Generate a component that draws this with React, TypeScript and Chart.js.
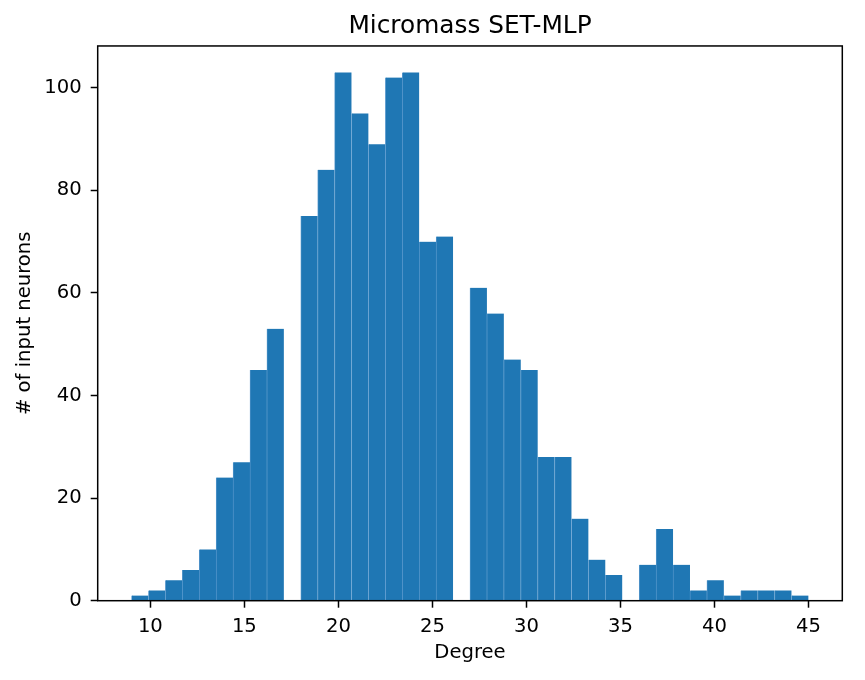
import { useEffect, useRef } from 'react';
import { Chart, registerables } from 'chart.js';

Chart.register(...registerables);

// Histogram of input-neuron degrees: 40 equal bins spanning [9, 45]
const degreeMin = 9;
const degreeMax = 45;
const binCount = 40;
const neuronCounts = [
  1, 2, 4, 6, 10, 24, 27, 45, 53, 0,
  75, 84, 103, 95, 89, 102, 103, 70, 71, 0,
  61, 56, 47, 45, 28, 28, 16, 8, 5, 0,
  7, 14, 7, 2, 4, 1, 2, 2, 2, 1,
];
const xTickValues = [10, 15, 20, 25, 30, 35, 40, 45];
const yTickValues = [0, 20, 40, 60, 80, 100];
const titleText = 'Micromass SET-MLP';
const xLabel = 'Degree';
const yLabel = '# of input neurons';

const FONT = "'DejaVu Sans', sans-serif";

const framePlugin = {
  id: 'frame',
  afterDatasetsDraw(chart: any) {
    const { ctx, chartArea: a } = chart;
    ctx.save();
    ctx.strokeStyle = '#000';
    ctx.lineWidth = 1.5;
    ctx.strokeRect(a.left, a.top, a.right - a.left, a.bottom - a.top);
    ctx.restore();
  },
};

export default function App() {
  const canvasRef = useRef<HTMLCanvasElement | null>(null);

  useEffect(() => {
    const canvas = canvasRef.current;
    if (!canvas) return;

    const binWidth = (degreeMax - degreeMin) / binCount;
    const points = neuronCounts.map((count, i) => ({
      x: degreeMin + binWidth * (i + 0.5),
      y: count,
    }));
    const span = degreeMax - degreeMin;
    const xMin = degreeMin - span * 0.05;
    const xMax = degreeMax + span * 0.05;
    const yMax = Math.max(...neuronCounts) * 1.05;

    const chart = new Chart(canvas, {
      type: 'bar',
      data: {
        datasets: [
          {
            data: points,
            backgroundColor: '#1f77b4',
            borderColor: '#5d9bcf',
            borderWidth: { left: 0.8, right: 0, top: 0, bottom: 0 },
            borderSkipped: false,
            barPercentage: 1,
            categoryPercentage: 1,
          },
        ],
      },
      options: {
        animation: false,
        responsive: true,
        maintainAspectRatio: false,
        devicePixelRatio: 1,
        layout: { padding: { left: 0, right: 22.7, top: 0, bottom: 0 } },
        plugins: {
          legend: { display: false },
          tooltip: { enabled: false },
          title: {
            display: true,
            fullSize: false,
            text: titleText,
            color: '#000',
            font: { family: FONT, size: 24.8, weight: 'normal', lineHeight: 1.2 },
            padding: { top: 11.8, bottom: 4.4 },
          },
        },
        scales: {
          x: {
            type: 'linear',
            min: xMin,
            max: xMax,
            offset: false,
            afterBuildTicks: (s: any) => {
              s.ticks = xTickValues.map((v) => ({ value: v }));
            },
            afterFit: (s: any) => {
              s.height = 79.3;
            },
            grid: {
              offset: false,
              drawOnChartArea: false,
              drawTicks: true,
              tickLength: 7,
              tickColor: '#000',
              tickWidth: 1.5,
              color: '#000',
            },
            border: { display: false },
            ticks: {
              color: '#000',
              padding: 7,
              maxRotation: 0,
              autoSkip: false,
              font: { family: FONT, size: 19.6 },
            },
            title: {
              display: true,
              text: xLabel,
              color: '#000',
              font: { family: FONT, size: 19.6, lineHeight: 1.2 },
              padding: { top: 0, bottom: 15.7 },
            },
          },
          y: {
            type: 'linear',
            min: 0,
            max: yMax,
            afterBuildTicks: (s: any) => {
              s.ticks = yTickValues.map((v) => ({ value: v }));
            },
            afterFit: (s: any) => {
              s.width = 97.7;
            },
            grid: {
              drawOnChartArea: false,
              drawTicks: true,
              tickLength: 7,
              tickColor: '#000',
              tickWidth: 1.5,
              color: '#000',
            },
            border: { display: false },
            ticks: {
              color: '#000',
              padding: 9,
              autoSkip: false,
              font: { family: FONT, size: 19.6 },
            },
            title: {
              display: true,
              text: yLabel,
              color: '#000',
              font: { family: FONT, size: 19.6, lineHeight: 1.2 },
              padding: { top: 13, bottom: 0 },
            },
          },
        },
      },
      plugins: [framePlugin],
    } as any);

    return () => chart.destroy();
  }, []);

  return (
    <div
      style={{
        position: 'absolute',
        left: 0,
        top: 0,
        width: 865,
        height: 680,
        background: '#fff',
      }}
    >
      <canvas ref={canvasRef} />
    </div>
  );
}
